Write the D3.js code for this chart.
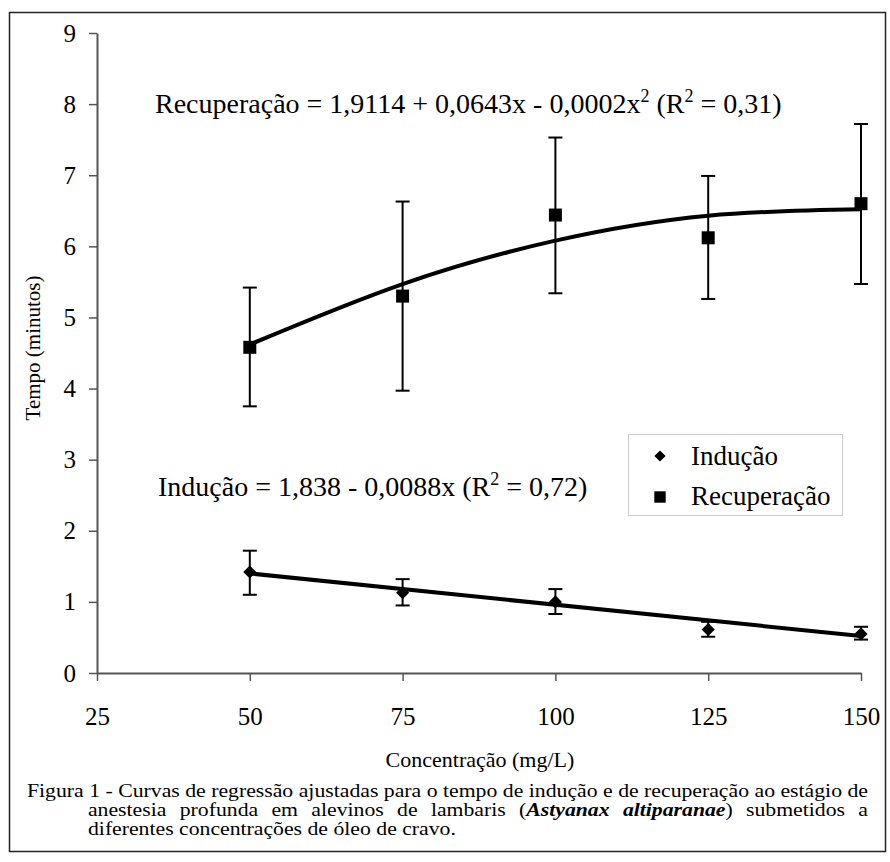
<!DOCTYPE html>
<html>
<head>
<meta charset="utf-8">
<script src="https://cdn.jsdelivr.net/npm/d3@7"></script>
<style>
  html, body { margin: 0; padding: 0; background: #fff; }
  svg { display: block; }
  text { font-family: "Liberation Serif", "Times New Roman", "DejaVu Serif", serif; fill: #000; }
</style>
</head>
<body>
<svg id="chart" width="890" height="862"></svg>
<script>
// ---------- data ----------
const xTicks = [25, 50, 75, 100, 125, 150];
const yTicks = [0, 1, 2, 3, 4, 5, 6, 7, 8, 9];
const concentrations = [50, 75, 100, 125, 150];

const inducao      = [1.42, 1.13, 1.00, 0.61, 0.55];
const inducaoLow   = [1.10, 0.95, 0.83, 0.51, 0.47];
const inducaoHigh  = [1.72, 1.32, 1.18, 0.72, 0.65];

const recuperacao     = [4.58, 5.30, 6.44, 6.12, 6.60];
const recuperacaoLow  = [3.75, 3.97, 5.34, 5.26, 5.47];
const recuperacaoHigh = [5.42, 6.63, 7.53, 6.99, 7.72];

// fitted curves
const inducaoFitX = [50, 150];
const inducaoFitY = [1.40, 0.52];
const recuperacaoFitX = [50, 75, 100, 125, 150];
const recuperacaoFitY = [4.62, 5.47, 6.08, 6.43, 6.52];

const legendLabels = ["Indução", "Recuperação"];
const xTitle = "Concentração (mg/L)";
const yTitle = "Tempo (minutos)";

// caption lines; segments between | are bold italic
const captionLines = [
  "Figura 1 - Curvas de regressão ajustadas para o tempo de indução e de recuperação ao estágio de",
  "anestesia profunda em alevinos de lambaris (|Astyanax| |altiparanae|) submetidos a",
  "diferentes concentrações de óleo de cravo."
];

// ---------- drawing ----------
const FONT = "Liberation Serif, Times New Roman, serif";
const svg = d3.select("#chart");

// outer frame
svg.append("rect")
  .attr("x", 9.5).attr("y", 12.5).attr("width", 876).attr("height", 839)
  .attr("fill", "none").attr("stroke", "#222").attr("stroke-width", 1.5);

const x = d3.scaleLinear().domain([25, 150]).range([97, 861]);
const y = d3.scaleLinear().domain([0, 9]).range([673, 33]);

// axes
const xAxis = d3.axisBottom(x).tickValues(xTicks).tickSize(8).tickPadding(26).tickSizeOuter(0);
const yAxis = d3.axisLeft(y).tickValues(yTicks).tickSize(8).tickPadding(13).tickSizeOuter(0);

const gx = svg.append("g").attr("transform", `translate(0,${y(0)})`).call(xAxis);
const gy = svg.append("g").attr("transform", `translate(${x(25)},0)`).call(yAxis);
[gx, gy].forEach(g => {
  g.attr("font-family", FONT);
  g.select(".domain").attr("stroke", "#555").attr("stroke-width", 2);
  g.selectAll(".tick line").attr("stroke", "#555").attr("stroke-width", 1.5);
  g.selectAll(".tick text")
    .attr("font-family", FONT)
    .attr("font-size", 25).attr("fill", "#000");
});

// axis titles
svg.append("text").attr("x", 480).attr("y", 767)
  .attr("text-anchor", "middle").attr("font-size", 22).text(xTitle);
svg.append("text")
  .attr("transform", `translate(40,348) rotate(-90)`)
  .attr("text-anchor", "middle").attr("font-size", 21).text(yTitle);

// fitted curves
const line = d3.line().x(d => x(d[0])).y(d => y(d[1]));
svg.append("path")
  .datum(inducaoFitX.map((v, i) => [v, inducaoFitY[i]]))
  .attr("d", line).attr("fill", "none").attr("stroke", "#000").attr("stroke-width", 4);
svg.append("path")
  .datum(recuperacaoFitX.map((v, i) => [v, recuperacaoFitY[i]]))
  .attr("d", line.curve(d3.curveNatural)).attr("fill", "none")
  .attr("stroke", "#000").attr("stroke-width", 4);

// error bars
function errorBars(means, lows, highs) {
  const g = svg.append("g").attr("stroke", "#000").attr("stroke-width", 2);
  concentrations.forEach((c, i) => {
    const cx = x(c);
    g.append("line").attr("x1", cx).attr("x2", cx).attr("y1", y(lows[i])).attr("y2", y(highs[i]));
    g.append("line").attr("x1", cx - 7).attr("x2", cx + 7).attr("y1", y(lows[i])).attr("y2", y(lows[i]));
    g.append("line").attr("x1", cx - 7).attr("x2", cx + 7).attr("y1", y(highs[i])).attr("y2", y(highs[i]));
  });
}
errorBars(inducao, inducaoLow, inducaoHigh);
errorBars(recuperacao, recuperacaoLow, recuperacaoHigh);

const diamond = d3.symbol().type(d3.symbolDiamond2).size(110);
const square = d3.symbol().type(d3.symbolSquare).size(169);

svg.append("g").selectAll("path").data(concentrations).join("path")
  .attr("d", diamond)
  .attr("transform", (d, i) => `translate(${x(d)},${y(inducao[i])})`)
  .attr("fill", "#000");
svg.append("g").selectAll("path").data(concentrations).join("path")
  .attr("d", square)
  .attr("transform", (d, i) => `translate(${x(d)},${y(recuperacao[i])})`)
  .attr("fill", "#000");

// equations
const eq1 = svg.append("text").attr("x", 155).attr("y", 113).attr("font-size", 28);
eq1.append("tspan").text("Recuperação = 1,9114 + 0,0643x - 0,0002x");
eq1.append("tspan").attr("dy", -11).attr("font-size", 18).text("2");
eq1.append("tspan").attr("dy", 11).text(" (R");
eq1.append("tspan").attr("dy", -11).attr("font-size", 18).text("2");
eq1.append("tspan").attr("dy", 11).text(" = 0,31)");

const eq2 = svg.append("text").attr("x", 158).attr("y", 496).attr("font-size", 28);
eq2.append("tspan").text("Indução = 1,838 - 0,0088x (R");
eq2.append("tspan").attr("dy", -11).attr("font-size", 18).text("2");
eq2.append("tspan").attr("dy", 11).text(" = 0,72)");

// legend
const lg = svg.append("g");
lg.append("rect").attr("x", 628.5).attr("y", 434.5).attr("width", 214).attr("height", 81)
  .attr("fill", "#fff").attr("stroke", "#ccc").attr("stroke-width", 1);
lg.append("path").attr("d", d3.symbol().type(d3.symbolDiamond2).size(80))
  .attr("transform", "translate(660,456)").attr("fill", "#000");
lg.append("path").attr("d", d3.symbol().type(d3.symbolSquare).size(130))
  .attr("transform", "translate(660,497)").attr("fill", "#000");
lg.append("text").attr("x", 691).attr("y", 465).attr("font-size", 27).text(legendLabels[0]);
lg.append("text").attr("x", 691).attr("y", 505).attr("font-size", 27).text(legendLabels[1]);

// caption: horizontally stretched serif text, justified lines
const capSize = 18;
const capG = svg.append("g");
// measure natural width of first line to derive the horizontal stretch
const probe = capG.append("text").attr("font-size", capSize).text(captionLines[0].replace(/\|/g, ""));
const natural = probe.node().getComputedTextLength();
probe.remove();
const sx = (868 - 27) / natural;
capG.attr("transform", `scale(${sx},1)`);

function drawLine(str, x0, x1, yy, justify) {
  const words = str.split(" ");
  const g = capG.append("g");
  const items = words.map(w => {
    const t = g.append("text").attr("y", yy).attr("font-size", capSize);
    w.split("|").forEach((seg, k) => {
      if (!seg) return;
      const ts = t.append("tspan").text(seg);
      if (k % 2 === 1) ts.attr("font-weight", "bold").attr("font-style", "italic");
    });
    return { t, w: t.node().getComputedTextLength() };
  });
  const total = d3.sum(items, d => d.w);
  const spaceW = capSize * 0.25;
  const a = x0 / sx, b = x1 / sx;
  const gap = justify ? (b - a - total) / (items.length - 1) : spaceW;
  let cx = a;
  items.forEach(it => { it.t.attr("x", cx); cx += it.w + gap; });
}
drawLine(captionLines[0], 27, 868, 797, true);
drawLine(captionLines[1], 88, 868, 816, true);
drawLine(captionLines[2], 88, 868, 835, false);
</script>
</body>
</html>
